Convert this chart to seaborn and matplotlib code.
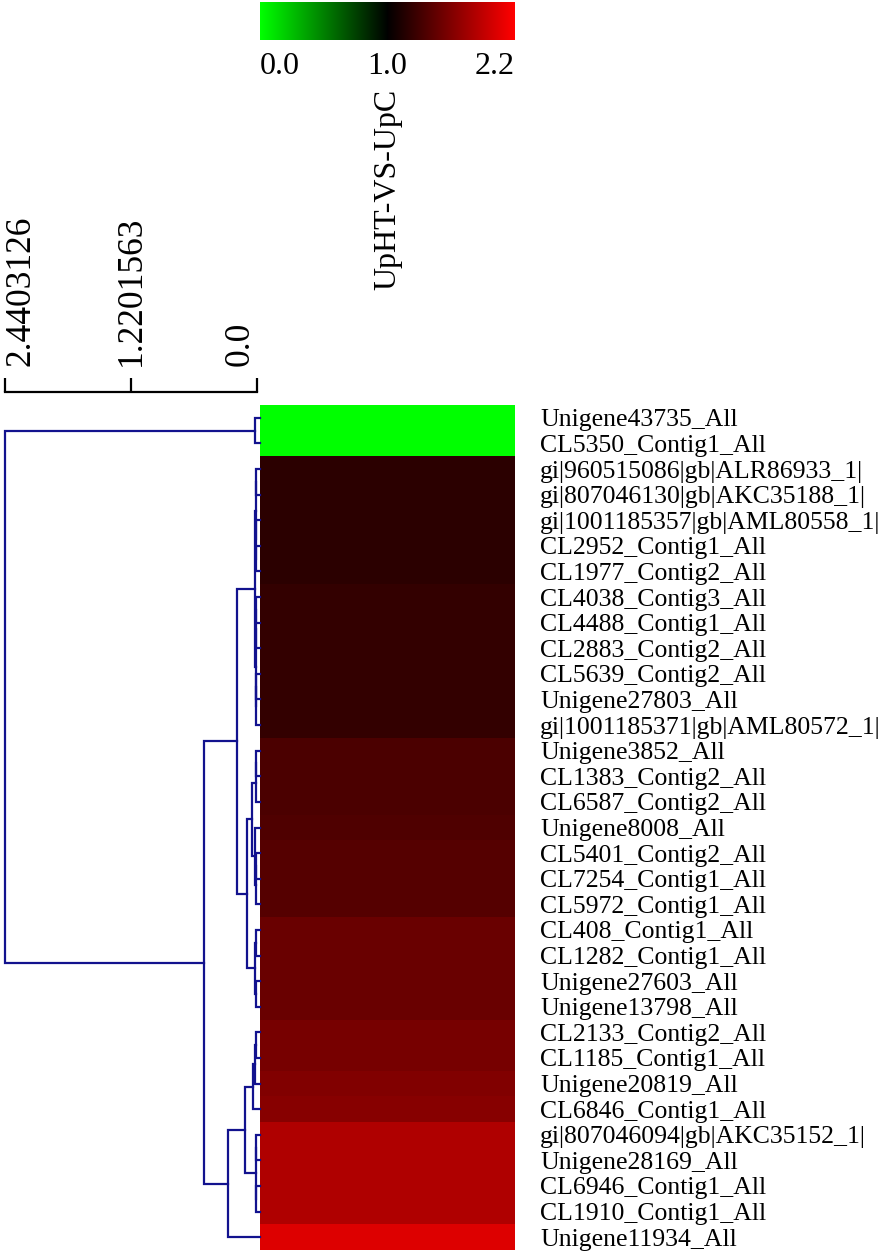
import numpy as np
import pandas as pd
import matplotlib
matplotlib.use("Agg")
import matplotlib.pyplot as plt
from matplotlib.colors import LinearSegmentedColormap, TwoSlopeNorm
import seaborn as sns

# gene ids, top to bottom
genes = ["Unigene43735_All", "CL5350_Contig1_All", "gi|960515086|gb|ALR86933_1|",
         "gi|807046130|gb|AKC35188_1|", "gi|1001185357|gb|AML80558_1|",
         "CL2952_Contig1_All", "CL1977_Contig2_All", "CL4038_Contig3_All",
         "CL4488_Contig1_All", "CL2883_Contig2_All", "CL5639_Contig2_All",
         "Unigene27803_All", "gi|1001185371|gb|AML80572_1|", "Unigene3852_All",
         "CL1383_Contig2_All", "CL6587_Contig2_All", "Unigene8008_All",
         "CL5401_Contig2_All", "CL7254_Contig1_All", "CL5972_Contig1_All",
         "CL408_Contig1_All", "CL1282_Contig1_All", "Unigene27603_All",
         "Unigene13798_All", "CL2133_Contig2_All", "CL1185_Contig1_All",
         "Unigene20819_All", "CL6846_Contig1_All", "gi|807046094|gb|AKC35152_1|",
         "Unigene28169_All", "CL6946_Contig1_All", "CL1910_Contig1_All",
         "Unigene11934_All"]
sample = "UpHT-VS-UpC"
# ratio values
ratio = [0.0, 0.0,
         1.20, 1.20, 1.20, 1.20, 1.20,
         1.24, 1.24, 1.24, 1.24, 1.24, 1.24,
         1.35, 1.35, 1.35,
         1.37,
         1.40, 1.40, 1.40,
         1.49, 1.49, 1.49, 1.49,
         1.56, 1.56,
         1.60,
         1.63,
         1.82, 1.82, 1.82, 1.82,
         2.04]

# row tree: (left, right, merge distance), leaves are row numbers
e_a = ((2, 3, 0.005), (4, (5, 6, 0.005), 0.008), 0.01)
e_b = (((7, 8, 0.005), 9, 0.006), ((10, 11, 0.005), 12, 0.006), 0.01)
g = (((13, 14, 0.005), 15, 0.01), (16, ((17, 18, 0.005), 19, 0.008), 0.02), 0.05)
h = ((20, 21, 0.008), (22, 23, 0.008), 0.02)
d1 = ((((24, 25, 0.005), 26, 0.02), 27, 0.035),
      ((28, 29, 0.005), (30, 31, 0.005), 0.012), 0.12)
tree = ((0, 1, 0.02),
        (((e_a, e_b, 0.02), (g, h, 0.10), 0.19), (d1, 32, 0.28), 0.51),
        2.4403126)
scale_ticks = [2.4403126, 1.2201563, 0.0]
bar_ticks = [0.0, 1.0, 2.2]

plt.rcParams['font.family'] = ['Liberation Serif', 'DejaVu Serif']

W, H = 894, 1257
fig = plt.figure(figsize=(W / 100, H / 100), dpi=100)

def box(x0, y0, x1, y1):
    return [x0 / W, 1 - y1 / H, (x1 - x0) / W, (y1 - y0) / H]

ax = fig.add_axes(box(260, 405, 515, 1250))
cax = fig.add_axes(box(260, 2, 515, 40))
dax = fig.add_axes(box(5, 405, 260, 1250))
sax = fig.add_axes(box(5, 392, 257, 393))

cmap = LinearSegmentedColormap.from_list("gkr", ["#00ff00", "#000000", "#ff0000"])
norm = TwoSlopeNorm(vmin=0.0, vcenter=1.0, vmax=2.2)
df = pd.DataFrame({sample: ratio}, index=genes)

sns.heatmap(df, ax=ax, cmap=cmap, norm=norm, cbar_ax=cax,
            cbar_kws={"orientation": "horizontal"}, yticklabels=True)

ax.yaxis.tick_right()
ax.set_yticklabels(df.index, rotation=0, ha="left", fontsize=18.5)
ax.tick_params(axis="y", length=0, pad=18)
ax.xaxis.tick_top()
ax.set_xticklabels([sample], rotation=90, fontsize=23)
ax.tick_params(axis="x", length=0, pad=83)
ax.set_xlabel("")
ax.set_ylabel("")

cbar = ax.collections[0].colorbar
cbar.outline.set_visible(False)
cbar.set_ticks(bar_ticks)
cbar.set_ticklabels(["%.1f" % t for t in bar_ticks])
cax.tick_params(length=0, pad=9, labelsize=23)
labs = cax.get_xticklabels()
labs[0].set_ha("left")
labs[-1].set_ha("right")

# dendrogram
LEAF = -0.03
segs = []

def walk(node):
    if isinstance(node, int):
        return LEAF, node + 0.5
    left, right, dist = node
    xl, yl = walk(left)
    xr, yr = walk(right)
    segs.append(([xl, dist, dist, xr], [yl, yl, yr, yr]))
    return dist, (yl + yr) / 2

walk(tree)
for xs, ys in segs:
    dax.plot(xs, ys, color="#12128e", lw=1.6, clip_on=False, solid_joinstyle="miter")
dax.set_xlim(2.4403126, LEAF)
dax.set_ylim(len(ratio), 0)
dax.axis("off")

# distance scale
sax.set_xlim(scale_ticks[0], 0.0)
sax.set_ylim(0, 1)
for s in ["left", "right", "bottom"]:
    sax.spines[s].set_visible(False)
sax.spines["top"].set_linewidth(1.6)
sax.set_yticks([])
sax.xaxis.tick_top()
sax.set_xticks(scale_ticks)
sax.set_xticklabels([str(t) for t in scale_ticks], rotation=90, fontsize=25.5)
sax.tick_params(axis="x", direction="out", length=10, width=1.6, pad=9)
slabs = sax.get_xticklabels()
slabs[0].set_ha("left")
slabs[-1].set_ha("right")

plt.savefig("out.png", dpi=100)
